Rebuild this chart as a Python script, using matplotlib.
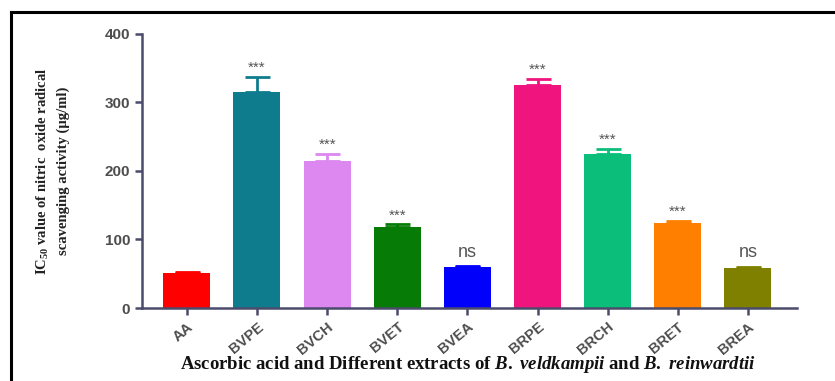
import matplotlib.pyplot as plt
import numpy as np

plt.rcParams['mathtext.fontset'] = 'custom'
plt.rcParams['mathtext.rm'] = 'Liberation Serif:bold'
plt.rcParams['mathtext.bf'] = 'Liberation Serif:bold'
plt.rcParams['mathtext.bfit'] = 'Liberation Serif:italic:bold'
plt.rcParams['mathtext.it'] = 'Liberation Serif:italic:bold'

# IC50 values (ug/ml) with SEM
groups = ['AA', 'BVPE', 'BVCH', 'BVET', 'BVEA', 'BRPE', 'BRCH', 'BRET', 'BREA']
ic50 = [51, 316, 214, 118, 60, 325, 225, 124, 59]
sem = [1, 21, 11, 4, 1, 9, 7, 3, 1]
signif = ['', '***', '***', '***', 'ns', '***', '***', '***', 'ns']
colors = ['#ff0000', '#0f7c8e', '#dc88f0', '#067c06', '#0000fb',
          '#f0147e', '#0bbf7a', '#ff8000', '#7f7f00']

axis_col = '#4b4b6b'
tick_col = '#4d4d4d'

fig = plt.figure(figsize=(8.35, 3.81), dpi=100)
ax = fig.add_axes([0.170, 0.1916, 0.7845, 0.7192])

x = np.arange(len(groups))
for i in range(len(groups)):
    ax.bar(x[i], ic50[i], width=0.67, color=colors[i], zorder=2)
    ax.errorbar(x[i], ic50[i], yerr=[[0], [sem[i]]], color=colors[i],
                capsize=9, capthick=2, elinewidth=2, zorder=1)
    top = ic50[i] + sem[i]
    if signif[i] == '***':
        ax.text(x[i], top + 3, '***', ha='center', va='bottom',
                fontsize=11, color='#555555', family='Liberation Sans')
    elif signif[i] == 'ns':
        ax.text(x[i], top + 8, 'ns', ha='center', va='bottom',
                fontsize=13, color='#555555', family='Liberation Sans')

ax.set_xlim(-0.64, 8.7)
ax.set_ylim(0, 400)
ax.set_yticks([0, 100, 200, 300, 400])
ax.set_xticks(x)
ax.set_xticklabels(groups, rotation=40, ha='right', rotation_mode='anchor')

for s in ['top', 'right']:
    ax.spines[s].set_visible(False)
for s in ['left', 'bottom']:
    ax.spines[s].set_color(axis_col)
    ax.spines[s].set_linewidth(1.8)
ax.tick_params(colors=axis_col, width=1.8, length=5)
for lab in ax.get_yticklabels():
    lab.set_fontsize(11)
for lab in ax.get_xticklabels():
    lab.set_fontsize(10.5)
for lab in ax.get_xticklabels() + ax.get_yticklabels():
    lab.set_color(tick_col)
    lab.set_fontweight('bold')
    lab.set_fontfamily('Liberation Sans')

ax.set_ylabel('IC$_{50}$ value of nitric  oxide radical\nscavenging activity (µg/ml)',
              family='Liberation Serif', fontweight='bold', fontsize=10.5,
              color='#222222', linespacing=1.55)
ax.yaxis.set_label_coords(-0.11, 0.5)

fig.text(0.56, 0.042,
         r'Ascorbic acid and Different extracts of $\mathit{B.\ veldkampii}$ '
         r'and $\mathit{B.\ reinwardtii}$',
         ha='center', va='center', family='Liberation Serif',
         fontweight='bold', fontsize=13.5, color='#111111')

# frame lines on the left and top edges
fig.add_artist(plt.Line2D([0.0135, 0.0135], [0, 0.968], transform=fig.transFigure,
                          color='black', lw=2.2))
fig.add_artist(plt.Line2D([0.0135, 1.0], [0.968, 0.968], transform=fig.transFigure,
                          color='black', lw=2.2))

fig.savefig('out.png', dpi=100)
